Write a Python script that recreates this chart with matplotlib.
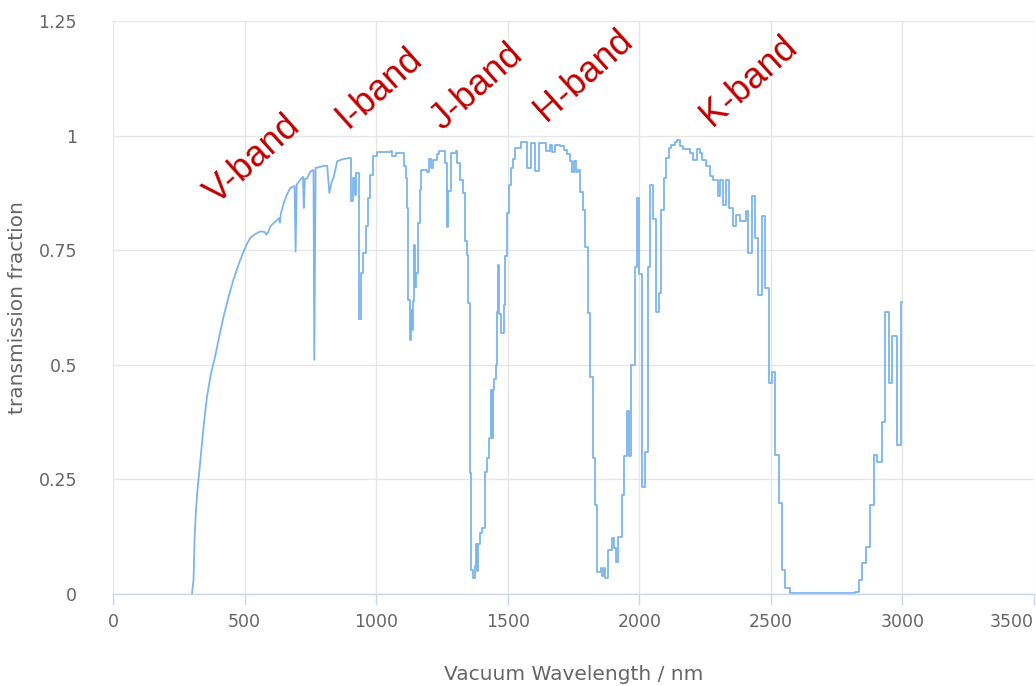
import matplotlib
matplotlib.use("Agg")
import matplotlib.pyplot as plt
import numpy as np

# wavelength (nm) where the transmission level starts (step plot in the infrared)
wavelength = [
    300, 306, 310, 315, 320, 331, 345, 357, 372, 388, 405, 420, 440, 458, 478, 496,
    510, 522, 540, 560, 575, 583, 590, 598, 612, 622, 630, 634, 638, 649, 660, 674,
    690, 694, 698, 712, 722, 725, 729, 738, 750, 762, 765, 770, 776, 801, 814, 822,
    830, 839, 852, 870, 896, 905, 911, 918, 924, 935, 941, 950, 962, 970, 978, 988,
    1004, 1055, 1062, 1075, 1099, 1104, 1112, 1118, 1122, 1128, 1132, 1136, 1140, 1142, 1147, 1152,
    1160, 1166, 1172, 1195, 1199, 1208, 1216, 1230, 1239, 1255, 1262, 1268, 1274, 1285, 1302, 1308,
    1318, 1330, 1338, 1345, 1350, 1356, 1362, 1368, 1376, 1380, 1384, 1388, 1396, 1402, 1414, 1422,
    1430, 1436, 1440, 1444, 1448, 1455, 1460, 1464, 1468, 1476, 1484, 1491, 1498, 1506, 1512, 1520,
    1528, 1552, 1575, 1590, 1603, 1618, 1645, 1660, 1670, 1680, 1700, 1712, 1725, 1738, 1746, 1752,
    1758, 1766, 1776, 1785, 1795, 1804, 1813, 1824, 1833, 1840, 1855, 1860, 1865, 1870, 1883, 1895,
    1905, 1912, 1921, 1933, 1943, 1952, 1960, 1970, 1982, 1990, 2000, 2010, 2022, 2032, 2042, 2052,
    2064, 2074, 2083, 2093, 2103, 2112, 2122, 2135, 2145, 2155, 2168, 2180, 2192, 2205, 2218, 2230,
    2240, 2255, 2268, 2282, 2300, 2308, 2320, 2330, 2342, 2356, 2368, 2382, 2405, 2415, 2428, 2441,
    2453, 2465, 2479, 2492, 2504, 2517, 2530, 2542, 2555, 2572, 2820, 2835, 2848, 2862, 2878, 2892,
    2905, 2922, 2935, 2948, 2962, 2978, 2995, 3000,
]
transmission = [
    0.0, 0.03, 0.12, 0.18, 0.22, 0.286, 0.37, 0.43, 0.48, 0.518, 0.565, 0.605, 0.65, 0.686, 0.72, 0.747,
    0.765, 0.777, 0.785, 0.791, 0.79, 0.784, 0.79, 0.802, 0.81, 0.815, 0.82, 0.81, 0.83, 0.853, 0.87, 0.886,
    0.89, 0.747, 0.893, 0.904, 0.91, 0.842, 0.905, 0.907, 0.922, 0.925, 0.511, 0.93, 0.93, 0.934, 0.934, 0.875,
    0.897, 0.91, 0.944, 0.948, 0.951, 0.857, 0.907, 0.87, 0.918, 0.60, 0.70, 0.744, 0.802, 0.864, 0.915, 0.955,
    0.964, 0.966, 0.955, 0.963, 0.962, 0.933, 0.907, 0.842, 0.642, 0.555, 0.62, 0.575, 0.64, 0.762, 0.67, 0.70,
    0.809, 0.882, 0.926, 0.92, 0.949, 0.93, 0.946, 0.96, 0.966, 0.966, 0.94, 0.80, 0.88, 0.962, 0.966, 0.94,
    0.904, 0.875, 0.77, 0.74, 0.635, 0.264, 0.052, 0.034, 0.06, 0.11, 0.05, 0.11, 0.132, 0.143, 0.267, 0.296,
    0.34, 0.445, 0.34, 0.445, 0.47, 0.50, 0.616, 0.718, 0.61, 0.569, 0.631, 0.737, 0.831, 0.893, 0.929, 0.949,
    0.973, 0.986, 0.929, 0.984, 0.922, 0.984, 0.967, 0.98, 0.965, 0.98, 0.977, 0.968, 0.96, 0.944, 0.92, 0.944,
    0.92, 0.926, 0.878, 0.838, 0.758, 0.613, 0.474, 0.296, 0.194, 0.049, 0.056, 0.04, 0.056, 0.034, 0.096, 0.122,
    0.10, 0.07, 0.125, 0.216, 0.30, 0.40, 0.30, 0.50, 0.714, 0.864, 0.697, 0.234, 0.31, 0.714, 0.893, 0.817,
    0.616, 0.657, 0.838, 0.907, 0.951, 0.973, 0.98, 0.986, 0.99, 0.977, 0.97, 0.97, 0.962, 0.947, 0.97, 0.962,
    0.947, 0.933, 0.911, 0.904, 0.868, 0.904, 0.849, 0.904, 0.842, 0.802, 0.827, 0.813, 0.835, 0.744, 0.868, 0.777,
    0.653, 0.824, 0.667, 0.46, 0.485, 0.303, 0.198, 0.052, 0.012, 0.002, 0.004, 0.03, 0.067, 0.103, 0.194, 0.303,
    0.289, 0.376, 0.616, 0.46, 0.562, 0.325, 0.638, 0.638,
]

band_labels = ["V-band", "I-band", "J-band", "H-band", "K-band"]
band_x = [533, 1013, 1382, 1790, 2418]
band_y = [0.948, 1.105, 1.105, 1.131, 1.12]

x_ticks = [0, 500, 1000, 1500, 2000, 2500, 3000, 3500]
y_ticks = [0, 0.25, 0.5, 0.75, 1, 1.25]
y_tick_labels = ["0", "0.25", "0.5", "0.75", "1", "1.25"]

plt.rcParams['font.family'] = ['DejaVu Sans']

fig = plt.figure(figsize=(10.36, 6.86), dpi=100)
ax = fig.add_axes([113/1036, 92/686, 921/1036, 573/686])

wl = np.array(wavelength, dtype=float)
tr = np.array(transmission, dtype=float)
# finely sampled visible part drawn as a continuous line, infrared as steps
split = int(np.searchsorted(wl, 896))
ax.plot(wl[:split + 1], tr[:split + 1], color='#7cb5ec', lw=1.3)
ax.plot(wl[split:], tr[split:], drawstyle='steps-post', color='#7cb5ec', lw=1.3)

ax.set_xlim(0, 3500)
ax.set_ylim(0, 1.25)
ax.set_xticks(x_ticks)
ax.set_yticks(y_ticks)
ax.set_yticklabels(y_tick_labels)
ax.grid(True, color='#e6e6e6', lw=1)
ax.set_axisbelow(True)
for s in ['top', 'right', 'left']:
    ax.spines[s].set_visible(False)
ax.spines['bottom'].set_color('#ccd6eb')
ax.spines['bottom'].set_linewidth(1)
ax.tick_params(axis='x', colors='#ccd6eb', length=8, width=1, labelcolor='#666666', labelsize=12.5, pad=6)
ax.tick_params(axis='y', length=0, labelcolor='#666666', labelsize=12.5, pad=26)
labels = ax.get_xticklabels()
labels[-1].set_horizontalalignment('right')

ax.set_xlabel("Vacuum Wavelength / nm", color='#666666', fontsize=14.5, labelpad=24)
ax.set_ylabel("transmission fraction", color='#666666', fontsize=14.5, labelpad=8)

for lab, bx, by in zip(band_labels, band_x, band_y):
    ax.text(bx, by, lab, rotation=42, ha='center', va='center', color='#c00000',
            fontsize=26, family='Liberation Sans', clip_on=False)

fig.savefig('out.png', dpi=100)
